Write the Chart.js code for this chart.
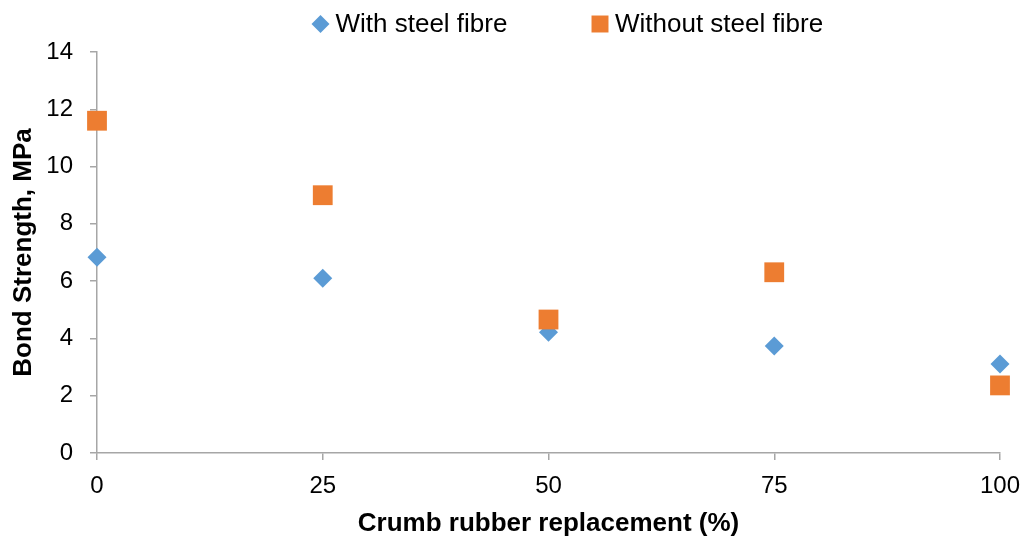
<!DOCTYPE html>
<html>
<head>
<meta charset="utf-8">
<title>Bond strength vs crumb rubber replacement</title>
<script src="https://cdn.jsdelivr.net/npm/chart.js@4.4.1/dist/chart.umd.min.js"></script>
<style>
  html, body { margin: 0; padding: 0; background: #ffffff; }
  #wrap { width: 1027px; height: 542px; }
</style>
</head>
<body>
<div id="wrap"><canvas id="chart" width="1027" height="542"></canvas></div>
<script>
// Crumb rubber replacement levels (%)
const replacement = [0, 25, 50, 75, 100];
// Bond strength (MPa) with steel fibre
const withFibre = [6.83, 6.10, 4.22, 3.74, 3.11];
// Bond strength (MPa) without steel fibre
const withoutFibre = [11.60, 9.00, 4.66, 6.31, 2.36];
// Axis tick values
const xTicks = [0, 25, 50, 75, 100];
const yTicks = [0, 2, 4, 6, 8, 10, 12, 14];
const seriesNames = ['With steel fibre', 'Without steel fibre'];

const FONT = '"Liberation Sans", Arial, Helvetica, sans-serif';
const AXIS_GREY = '#a6a6a6';
const BLUE = '#5B9BD5';
const ORANGE = '#ED7D31';

const toPoints = (xs, ys) => xs.map((x, i) => ({ x: x, y: ys[i] }));

// Legend across the top: marker followed by its label, items spaced apart
const topLegend = {
  id: 'topLegend',
  afterDraw(chart) {
    const ctx = chart.ctx;
    const y = 24;
    const starts = [320.5, 600];
    ctx.save();
    ctx.font = '26px ' + FONT;
    ctx.textBaseline = 'middle';
    ctx.textAlign = 'left';
    chart.data.datasets.forEach((ds, i) => {
      const cx = starts[i];
      ctx.fillStyle = ds.backgroundColor;
      ctx.strokeStyle = ds.backgroundColor;
      ctx.lineWidth = 0;
      Chart.helpers.drawPoint(ctx, {
        pointStyle: ds.pointStyle,
        radius: ds.pointStyle === 'rect' ? 12 : 9,
        borderWidth: 0,
        rotation: 0
      }, cx, y);
      ctx.fillStyle = '#000000';
      ctx.fillText(ds.label, cx + 15, y + 1);
    });
    ctx.restore();
  }
};

new Chart(document.getElementById('chart'), {
  type: 'scatter',
  data: {
    datasets: [
      {
        label: seriesNames[0],
        data: toPoints(replacement, withFibre),
        pointStyle: 'rectRot',
        pointRadius: 9.5,
        pointHoverRadius: 9.5,
        backgroundColor: BLUE,
        borderColor: BLUE,
        borderWidth: 0,
        clip: false,
        order: 1
      },
      {
        label: seriesNames[1],
        data: toPoints(replacement, withoutFibre),
        pointStyle: 'rect',
        pointRadius: 14,
        pointHoverRadius: 14,
        backgroundColor: ORANGE,
        borderColor: ORANGE,
        borderWidth: 0,
        clip: false,
        order: 0
      }
    ]
  },
  options: {
    responsive: false,
    animation: false,
    devicePixelRatio: 1,
    layout: { autoPadding: false, padding: { top: 52, right: 27, bottom: 0, left: 0 } },
    plugins: {
      legend: { display: false },
      tooltip: { enabled: false }
    },
    scales: {
      x: {
        type: 'linear',
        min: 0,
        max: 100,
        afterBuildTicks(scale) { scale.ticks = xTicks.map(v => ({ value: v })); },
        afterFit(scale) {
          scale.height = 89;
          scale.paddingLeft = 0;
          scale.paddingRight = 0;
        },
        ticks: {
          color: '#000000',
          font: { family: FONT, size: 24 },
          padding: 12,
          maxRotation: 0
        },
        grid: { drawOnChartArea: false, drawTicks: true, tickLength: 7, color: AXIS_GREY, lineWidth: 1.5 },
        border: { display: true, color: AXIS_GREY, width: 1.5 },
        title: {
          display: true,
          text: 'Crumb rubber replacement (%)',
          color: '#000000',
          font: { family: FONT, size: 26, weight: 'bold' },
          padding: { top: 0, bottom: 3 }
        }
      },
      y: {
        type: 'linear',
        min: 0,
        max: 14,
        afterBuildTicks(scale) { scale.ticks = yTicks.map(v => ({ value: v })); },
        afterFit(scale) { scale.width = 97; },
        ticks: {
          color: '#000000',
          font: { family: FONT, size: 24 },
          padding: 17
        },
        grid: { drawOnChartArea: false, drawTicks: true, tickLength: 7, color: AXIS_GREY, lineWidth: 1.5 },
        border: { display: true, color: AXIS_GREY, width: 1.5 },
        title: {
          display: true,
          text: 'Bond Strength, MPa',
          color: '#000000',
          font: { family: FONT, size: 26, weight: 'bold' },
          padding: { top: 8, bottom: 0 }
        }
      }
    }
  },
  plugins: [topLegend]
});
</script>
</body>
</html>
